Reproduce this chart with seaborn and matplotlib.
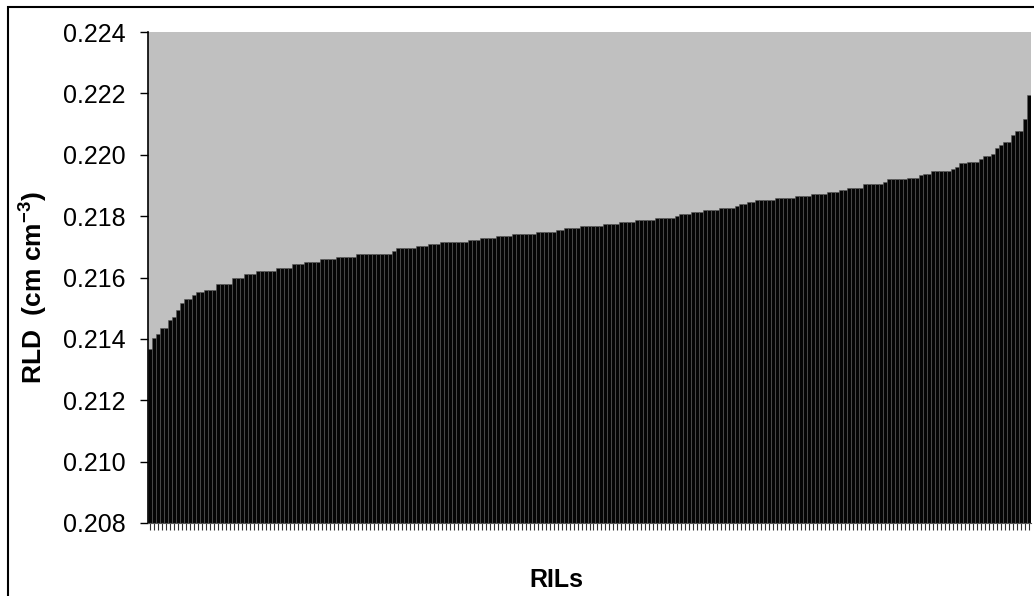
import matplotlib
matplotlib.use('Agg')
import matplotlib.pyplot as plt
from matplotlib.patches import Rectangle
import seaborn as sns
import pandas as pd

# RLD per RIL, sorted ascending
rld = [
    0.21367, 0.21403, 0.21416, 0.21437, 0.21437, 0.21462, 0.21471, 0.21494, 0.21517, 0.21530,
    0.21530, 0.21543, 0.21553, 0.21553, 0.21560, 0.21560, 0.21560, 0.21580, 0.21580, 0.21580,
    0.21580, 0.21600, 0.21600, 0.21600, 0.21611, 0.21611, 0.21611, 0.21621, 0.21621, 0.21621,
    0.21621, 0.21621, 0.21631, 0.21631, 0.21631, 0.21631, 0.21644, 0.21644, 0.21644, 0.21650,
    0.21650, 0.21650, 0.21650, 0.21660, 0.21660, 0.21660, 0.21660, 0.21668, 0.21668, 0.21668,
    0.21668, 0.21668, 0.21677, 0.21677, 0.21677, 0.21677, 0.21677, 0.21677, 0.21677, 0.21677,
    0.21677, 0.21686, 0.21696, 0.21696, 0.21696, 0.21696, 0.21696, 0.21703, 0.21703, 0.21703,
    0.21709, 0.21709, 0.21709, 0.21716, 0.21716, 0.21716, 0.21716, 0.21716, 0.21716, 0.21716,
    0.21722, 0.21722, 0.21722, 0.21729, 0.21729, 0.21729, 0.21729, 0.21735, 0.21735, 0.21735,
    0.21735, 0.21742, 0.21742, 0.21742, 0.21742, 0.21742, 0.21742, 0.21748, 0.21748, 0.21748,
    0.21748, 0.21748, 0.21755, 0.21755, 0.21761, 0.21761, 0.21761, 0.21761, 0.21768, 0.21768,
    0.21768, 0.21768, 0.21768, 0.21768, 0.21774, 0.21774, 0.21774, 0.21774, 0.21781, 0.21781,
    0.21781, 0.21781, 0.21787, 0.21787, 0.21787, 0.21787, 0.21787, 0.21794, 0.21794, 0.21794,
    0.21794, 0.21794, 0.21800, 0.21807, 0.21807, 0.21807, 0.21813, 0.21813, 0.21813, 0.21820,
    0.21820, 0.21820, 0.21820, 0.21826, 0.21826, 0.21826, 0.21826, 0.21833, 0.21840, 0.21840,
    0.21846, 0.21846, 0.21853, 0.21853, 0.21853, 0.21853, 0.21853, 0.21859, 0.21859, 0.21859,
    0.21859, 0.21859, 0.21866, 0.21866, 0.21866, 0.21866, 0.21872, 0.21872, 0.21872, 0.21872,
    0.21879, 0.21879, 0.21879, 0.21885, 0.21885, 0.21892, 0.21892, 0.21892, 0.21892, 0.21905,
    0.21905, 0.21905, 0.21905, 0.21905, 0.21911, 0.21921, 0.21921, 0.21921, 0.21921, 0.21921,
    0.21924, 0.21924, 0.21924, 0.21934, 0.21937, 0.21937, 0.21947, 0.21947, 0.21947, 0.21947,
    0.21947, 0.21954, 0.21960, 0.21973, 0.21973, 0.21976, 0.21976, 0.21976, 0.21986, 0.21996,
    0.21996, 0.22002, 0.22022, 0.22032, 0.22042, 0.22042, 0.22064, 0.22077, 0.22077, 0.22117,
    0.22195,
]
rils = ['RIL%d' % (i + 1) for i in range(len(rld))]
y_ticks = [0.208, 0.210, 0.212, 0.214, 0.216, 0.218, 0.220, 0.222, 0.224]

plt.rcParams['font.family'] = ['Liberation Sans', 'DejaVu Sans']
plt.rcParams['mathtext.fontset'] = 'custom'
plt.rcParams['mathtext.rm'] = 'Liberation Sans'
plt.rcParams['mathtext.bf'] = 'Liberation Sans:bold'

df = pd.DataFrame({'ril': rils, 'rld': rld})

fig = plt.figure(figsize=(10.34, 5.96), dpi=100)
ax = fig.add_axes([148/1034, 1-523/596, 883/1034, 491/596])
ax.set_facecolor('#c0c0c0')

sns.barplot(data=df, x='ril', y='rld', color='#050505', saturation=1,
            width=1.0, edgecolor='#5a5a5a', linewidth=0.4, ax=ax)

ax.set_ylim(0.208, 0.224)
ax.set_xlim(-0.5, len(rld) - 0.5)
ax.set_yticks(y_ticks)
ax.set_yticklabels(['%.3f' % t for t in y_ticks], fontsize=18)
ax.tick_params(axis='x', labelbottom=False, length=5, width=0.8, color='#333333')
ax.tick_params(axis='y', length=6, width=1, pad=10)
ax.set_xlabel('')
ax.set_ylabel('')

ax.spines['top'].set_visible(False)
ax.spines['right'].set_visible(False)
ax.spines['left'].set_linewidth(1.2)
ax.spines['bottom'].set_color('#555555')

fig.text(556/1034, 1-580/596, 'RILs', fontsize=18, fontweight='bold',
         ha='center', va='center')
fig.text(33/1034, 1-288/596, r'RLD  (cm cm$^{\mathbf{-3}}$)', rotation=90,
         fontsize=19, fontweight='bold', ha='center', va='center')

# outer chart border
fig.patches.append(Rectangle((8/1034, -0.05), 1.2, 1.05 - 7/596,
                             transform=fig.transFigure, fill=False,
                             ec='black', lw=1.5))

fig.savefig('out.png', dpi=100)
